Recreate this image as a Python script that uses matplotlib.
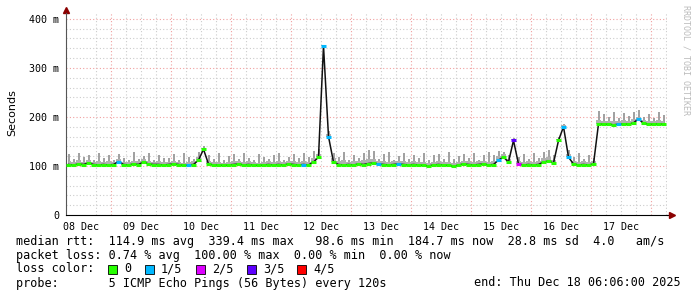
import matplotlib
matplotlib.use("Agg")
import matplotlib.pyplot as plt
from matplotlib.patches import Rectangle

# 10 day smokeping graph, samples every 2 hours, start = Dec 08 06:06
hours = [1 + 2 * i for i in range(120)]

median_ms = [
    103, 102, 104, 103, 106, 103, 102, 103, 102, 103,
    109, 103, 102, 104, 103, 108, 104, 103, 103, 102,
    103, 104, 103, 101, 102, 103, 112, 134, 104, 102,
    102, 101, 102, 103, 104, 102, 103, 102, 101, 102,
    103, 102, 103, 102, 104, 103, 102, 103, 102, 108,
    118, 345, 160, 108, 103, 102, 103, 102, 104, 103,
    105, 106, 104, 103, 102, 103, 104, 103, 102, 103,
    102, 101, 100, 102, 103, 102, 101, 99, 102, 104,
    103, 102, 103, 104, 102, 103, 112, 118, 108, 152,
    104, 102, 103, 102, 103, 108, 110, 106, 152, 180,
    118, 104, 102, 103, 102, 104, 186, 185, 185, 184,
    185, 186, 185, 188, 196, 187, 185, 185, 186, 185,
]

# second slowest ping (dense part of the smoke)
smoke_mid_ms = [
    110, 108, 112, 109, 113, 108, 111, 109, 110, 108,
    114, 109, 108, 111, 110, 114, 111, 109, 110, 108,
    109, 111, 109, 107, 108, 110, 118, 137, 110, 108,
    109, 107, 108, 110, 111, 108, 110, 108, 107, 109,
    110, 108, 110, 108, 111, 110, 108, 110, 109, 116,
    125, 346, 166, 116, 110, 112, 109, 110, 111, 112,
    114, 115, 111, 110, 109, 110, 111, 110, 109, 110,
    108, 108, 107, 109, 110, 108, 108, 106, 109, 111,
    110, 109, 110, 111, 109, 110, 120, 124, 114, 155,
    110, 108, 110, 108, 110, 116, 118, 113, 156, 183,
    124, 110, 108, 110, 109, 110, 193, 192, 191, 192,
    192, 193, 192, 195, 200, 194, 192, 192, 193, 192,
]

# slowest ping
max_ms = [
    124, 114, 126, 118, 123, 112, 127, 116, 122, 113,
    125, 117, 112, 128, 115, 121, 126, 113, 123, 117,
    116, 124, 113, 127, 118, 114, 128, 140, 122, 115,
    126, 113, 121, 124, 114, 127, 117, 112, 125, 118,
    114, 123, 127, 113, 118, 124, 116, 126, 119, 130,
    134, 347, 172, 126, 118, 129, 113, 123, 116, 127,
    132, 130, 115, 124, 128, 113, 121, 126, 114, 123,
    117, 127, 113, 122, 125, 115, 128, 114, 120, 124,
    116, 126, 113, 123, 129, 122, 130, 128, 123, 158,
    118, 124, 114, 127, 117, 129, 132, 123, 160, 186,
    132, 118, 126, 115, 123, 117, 212, 205, 200, 210,
    198, 208, 202, 210, 214, 200, 207, 198, 211, 203,
]

# lost pings out of 5 per sample
loss = [0] * 120
for i, n in [(10, 1), (24, 1), (47, 1), (51, 1), (52, 1), (62, 1), (66, 1),
             (86, 1), (89, 3), (90, 2), (99, 1), (100, 1), (110, 1), (114, 1)]:
    loss[i] = n

loss_colors = ['#26ff00', '#00b8ff', '#dd00ff', '#5e00ff', '#ff0000']
loss_labels = ['0', '1/5', '2/5', '3/5', '4/5']
day_labels = ['08 Dec', '09 Dec', '10 Dec', '11 Dec', '12 Dec',
              '13 Dec', '14 Dec', '15 Dec', '16 Dec', '17 Dec']

W, H = 697, 297
fig = plt.figure(figsize=(W / 100, H / 100), dpi=100)
fig.patch.set_facecolor('white')
ax = fig.add_axes([66 / W, 1 - 215 / H, 601 / W, 202 / H])
mono = 'DejaVu Sans Mono'

# grid
midnight = 17.9
for k in range(-1, 41):
    t = midnight + 6 * k
    if 0 < t <= 240.4:
        major = (k % 4 == 0)
        ax.axvline(t, color='#f0a0a0' if major else '#cccccc', lw=0.8,
                   ls=(0, (1, 2)), zorder=0)
for v in range(20, 420, 20):
    ax.axhline(v, color='#f0a0a0' if v % 100 == 0 else '#cccccc', lw=0.8,
               ls=(0, (1, 2)), zorder=0)

# smoke
ax.vlines(hours, median_ms, max_ms, color='#999999', lw=1.3, zorder=2)
ax.fill_between(hours, median_ms, smoke_mid_ms, step='mid', color='#b0b0b0', lw=0, zorder=2)
ax.plot(hours, median_ms, color='#111111', lw=1.1, zorder=3)
for t, m, n in zip(hours, median_ms, loss):
    ax.hlines(m, t - 1, t + 1, color=loss_colors[n], lw=2.2, zorder=4)

ax.set_xlim(0, 240.4)
ax.set_ylim(0, 412)
ax.set_xticks([midnight - 12 + 24 * k for k in range(10)])
ax.set_xticklabels(day_labels, family=mono, fontsize=7.2)
ax.set_yticks([0, 100, 200, 300, 400])
ax.set_yticklabels(['0', '100 m', '200 m', '300 m', '400 m'], family=mono, fontsize=7.2)
ax.tick_params(length=0, pad=5)
for s in ['top', 'right']:
    ax.spines[s].set_visible(False)
ax.spines['bottom'].set_color('black')
ax.spines['left'].set_color('#555555')
ax.plot([1, 1.008], [0, 0], color='black', lw=0.8, transform=ax.transAxes, clip_on=False)
ax.plot([1.008], [0], marker='>', color='#8b0000', ms=4, transform=ax.transAxes, clip_on=False)
ax.plot([0, 0], [1, 1.015], color='#555555', lw=0.8, transform=ax.transAxes, clip_on=False)
ax.plot([0], [1.015], marker='^', color='#8b0000', ms=4, transform=ax.transAxes, clip_on=False)

fig.text(12 / W, 1 - 113 / H, 'Seconds', rotation=90, ha='center', va='center', fontsize=8)
fig.text(686 / W, 1 - 5 / H, 'RRDTOOL / TOBI OETIKER', rotation=270, ha='center', va='top',
         family=mono, fontsize=6, color='#bbbbbb')

# legend
fs = 8.5
fig.text(16 / W, 1 - 241 / H,
         'median rtt:  114.9 ms avg  339.4 ms max   98.6 ms min  184.7 ms now  28.8 ms sd  4.0   am/s',
         family=mono, fontsize=fs, va='center')
fig.text(16 / W, 1 - 255 / H,
         'packet loss: 0.74 % avg  100.00 % max  0.00 % min  0.00 % now',
         family=mono, fontsize=fs, va='center')
fig.text(16 / W, 1 - 269 / H, 'loss color:', family=mono, fontsize=fs, va='center')
box_x = [108, 145, 196, 247, 297]
for bx, c, lab in zip(box_x, loss_colors, loss_labels):
    fig.add_artist(Rectangle((bx / W, 1 - 274 / H), 9 / W, 9 / H, facecolor=c,
                             edgecolor='black', lw=0.6, transform=fig.transFigure))
    fig.text((bx + 16) / W, 1 - 269 / H, lab, family=mono, fontsize=fs, va='center')
fig.text(16 / W, 1 - 283 / H, 'probe:       5 ICMP Echo Pings (56 Bytes) every 120s',
         family=mono, fontsize=fs, va='center')
fig.text(681 / W, 1 - 283 / H, 'end: Thu Dec 18 06:06:00 2025',
         family=mono, fontsize=fs, va='center', ha='right')

fig.savefig('out.png', dpi=100)
